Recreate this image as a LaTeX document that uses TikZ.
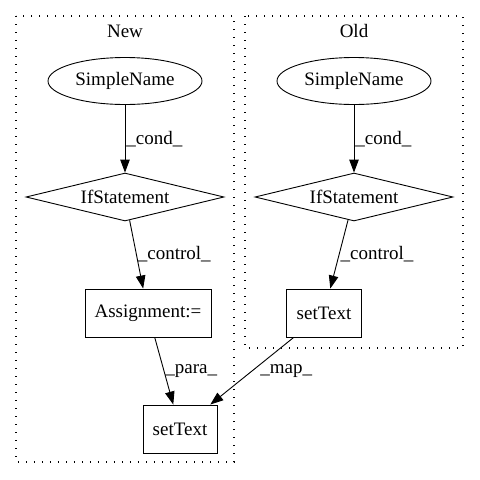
\documentclass[tikz,border=0pt]{standalone}
\usepackage{fontspec}
\setmainfont{Liberation Serif}
\usetikzlibrary{shapes.geometric, arrows.meta}
\tikzset{every picture/.style={/utils/exec={\fontsize{19}{21}\selectfont}}}
\tikzset{
	astnode/.style={draw, line width=0.9pt, inner sep=0pt, minimum height=48pt},
	namenode/.style={astnode, ellipse, minimum width=154pt, minimum height=47pt},
	ifnode/.style={astnode, diamond, shape aspect=4, minimum width=198pt},
	stmtnode/.style={astnode, rectangle},
	flow/.style={line width=0.9pt, -{Triangle[length=13pt, width=9.5pt]}},
	lbl/.style={anchor=west, inner sep=1pt},
	cluster/.style={line width=1.2pt, dash pattern=on 1.2pt off 6.8pt}
}

\begin{document}
\begin{tikzpicture}[x=1pt, y=-1pt]
				\useasboundingbox (0,0) rectangle (480,480);

				\draw[cluster] (16,16) rectangle (234,462);
				\node (labNew) at (125,31) {New};

				\draw[cluster] (245,16) rectangle (463,348);
				\node (labOld) at (354,31) {Old};

				\node[namenode] (sNameNew) at (125,81) {SimpleName};
				\node[ifnode] (ifNew) at (125,197) {IfStatement};
				\node[stmtnode, minimum width=126pt] (assignNew) at (148,313) {Assignment:=};
				\node[stmtnode, minimum width=74pt] (setTextNew) at (180,429) {setText};

				\node[namenode] (sNameOld) at (354,81) {SimpleName};
				\node[ifnode] (ifOld) at (354,197) {IfStatement};
				\node[stmtnode, minimum width=75pt] (setTextOld) at (324,313) {setText};

				\draw[flow] (sNameNew) -- (ifNew) node[lbl, pos=0.5] {\_cond\_};
				\draw[flow] (ifNew) -- (assignNew) node[lbl, pos=0.5] {\_control\_};
				\draw[flow] (assignNew) -- (setTextNew) node[lbl, pos=0.5] {\_para\_};

				\draw[flow] (sNameOld) -- (ifOld) node[lbl, pos=0.5] {\_cond\_};
				\draw[flow] (ifOld) -- (setTextOld) node[lbl, pos=0.5] {\_control\_};

				\draw[flow] (setTextOld) -- (setTextNew) node[lbl, pos=0.5, xshift=7pt] {\_map\_};
			\end{tikzpicture}
\end{document}
